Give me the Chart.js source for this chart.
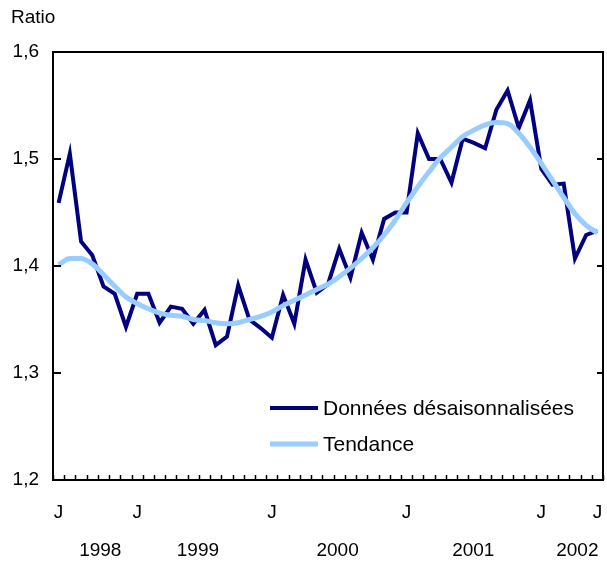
<!DOCTYPE html>
<html>
<head>
<meta charset="utf-8">
<script src="https://cdn.jsdelivr.net/npm/chart.js@4/dist/chart.umd.min.js"></script>
<style>
html,body{margin:0;padding:0;background:#fff;}
#wrap{position:relative;width:607px;height:564px;}
</style>
</head>
<body>
<div id="wrap"><canvas id="c" width="607" height="564"></canvas></div>
<script>
const months = [
  '1998-06','1998-07','1998-08','1998-09','1998-10','1998-11','1998-12',
  '1999-01','1999-02','1999-03','1999-04','1999-05','1999-06','1999-07','1999-08','1999-09','1999-10','1999-11','1999-12',
  '2000-01','2000-02','2000-03','2000-04','2000-05','2000-06','2000-07','2000-08','2000-09','2000-10','2000-11','2000-12',
  '2001-01','2001-02','2001-03','2001-04','2001-05','2001-06','2001-07','2001-08','2001-09','2001-10','2001-11','2001-12',
  '2002-01','2002-02','2002-03','2002-04','2002-05','2002-06'
];
const seasonallyAdjusted = [
  1.459,1.505,1.423,1.410,1.381,1.374,1.343,
  1.374,1.374,1.347,1.362,1.360,1.346,1.359,1.326,1.334,1.382,1.350,1.342,
  1.333,1.373,1.346,1.406,1.375,1.383,1.416,1.389,1.431,1.406,1.444,1.450,
  1.450,1.524,1.500,1.500,1.478,1.519,1.515,1.510,1.546,1.564,1.529,1.555,
  1.491,1.476,1.477,1.407,1.429,1.433
];
const trend = [
  1.401,1.407,1.407,1.402,1.392,1.381,1.371,
  1.365,1.360,1.356,1.354,1.353,1.350,1.349,1.347,1.346,1.347,1.350,1.353,
  1.357,1.363,1.368,1.373,1.378,1.383,1.390,1.398,1.407,1.417,1.429,1.443,
  1.459,1.474,1.488,1.501,1.511,1.521,1.527,1.532,1.534,1.533,1.524,1.511,
  1.496,1.480,1.464,1.449,1.438,1.431
];
const monthTickLabels = {'1998-06':'J','1999-01':'J','2000-01':'J','2001-01':'J','2002-01':'J','2002-06':'J'};
const yearLabels = ['1998','1999','2000','2001','2002'];
const yearSpans = [['1998-06','1998-12'],['1999-01','1999-12'],['2000-01','2000-12'],['2001-01','2001-12'],['2002-01','2002-06']];
const yTicks = [1.2,1.3,1.4,1.5,1.6];
const seriesNames = ['Données désaisonnalisées','Tendance'];
const yTitle = 'Ratio';

const DARK = '#000080';
const LIGHT = '#99ccff';
const FONT = '"Liberation Sans", Arial, sans-serif';
const AXIS_SIZE = 19;
const LEGEND_SIZE = 21;

const framePlugin = {
  id: 'frame',
  afterDraw(chart) {
    const ctx = chart.ctx;
    const a = chart.chartArea;
    const x = chart.scales.x, y = chart.scales.y;
    const step = x.getPixelForValue(1) - x.getPixelForValue(0);
    ctx.save();
    ctx.strokeStyle = '#000';
    ctx.lineWidth = 2;
    ctx.beginPath();
    ctx.rect(a.left, a.top, a.right - a.left, a.bottom - a.top);
    ctx.stroke();
    yTicks.forEach(v => {
      const py = y.getPixelForValue(v);
      ctx.beginPath();
      ctx.moveTo(a.left, py); ctx.lineTo(a.left + 8, py);
      ctx.moveTo(a.right, py); ctx.lineTo(a.right - 6, py);
      ctx.stroke();
    });
    ctx.lineWidth = 1.5;
    for (let i = 0; i <= months.length; i++) {
      const px = x.getPixelForValue(Math.min(i, months.length - 1)) + (i < months.length ? -step / 2 : step / 2);
      ctx.beginPath();
      ctx.moveTo(Math.round(px) + 0.5, a.bottom);
      ctx.lineTo(Math.round(px) + 0.5, a.bottom - 5);
      ctx.stroke();
    }
    ctx.fillStyle = '#000';
    ctx.font = AXIS_SIZE + 'px ' + FONT;
    ctx.textAlign = 'center';
    ctx.textBaseline = 'middle';
    const nudge = [2, -1, 4, 5, 8];
    yearLabels.forEach((lab, k) => {
      const i0 = months.indexOf(yearSpans[k][0]);
      const i1 = months.indexOf(yearSpans[k][1]);
      const cx = (x.getPixelForValue(i0) + x.getPixelForValue(i1)) / 2;
      ctx.fillText(lab, cx + nudge[k] + (k === 0 ? 6 : 0), 551);
    });
    ctx.textAlign = 'left';
    ctx.fillText(yTitle, 11, 18);
    ctx.font = LEGEND_SIZE + 'px ' + FONT;
    const items = [[seriesNames[0], DARK, 4, 408], [seriesNames[1], LIGHT, 5, 444]];
    items.forEach(([t, col, w, py]) => {
      ctx.strokeStyle = col;
      ctx.lineWidth = w;
      ctx.beginPath();
      ctx.moveTo(270, py); ctx.lineTo(318, py);
      ctx.stroke();
      ctx.fillStyle = '#000';
      ctx.fillText(t, 323, py + 1);
    });
    ctx.restore();
  }
};

new Chart(document.getElementById('c'), {
  type: 'line',
  data: {
    labels: months,
    datasets: [
      { label: seriesNames[0], data: seasonallyAdjusted, borderColor: DARK, borderWidth: 4, pointRadius: 0, tension: 0, borderJoinStyle: 'miter', order: 1 },
      { label: seriesNames[1], data: trend, borderColor: LIGHT, borderWidth: 5, pointRadius: 0, cubicInterpolationMode: 'monotone', order: 0 }
    ]
  },
  options: {
    responsive: false,
    animation: false,
    events: [],
    layout: { padding: { left: 0, right: 4, top: 52, bottom: 0 } },
    plugins: { legend: { display: false }, tooltip: { enabled: false } },
    scales: {
      x: {
        offset: true,
        grid: { display: false, drawTicks: false },
        border: { display: false },
        afterFit(s) { s.height = 84; s.paddingLeft = 0; s.paddingRight = 0; },
        ticks: {
          autoSkip: false, maxRotation: 0, minRotation: 0, padding: 21,
          color: '#000', font: { family: FONT, size: AXIS_SIZE },
          callback(v, i) { return monthTickLabels[months[i]] || ''; }
        }
      },
      y: {
        min: 1.2, max: 1.6,
        grid: { display: false, drawTicks: false },
        border: { display: false },
        afterFit(s) { s.width = 53; s.paddingTop = 0; s.paddingBottom = 0; },
        afterBuildTicks(s) { s.ticks = yTicks.map(v => ({ value: v })); },
        ticks: {
          padding: 14, color: '#000', font: { family: FONT, size: AXIS_SIZE },
          callback(v) { return v.toFixed(1).replace('.', ','); }
        }
      }
    }
  },
  plugins: [framePlugin]
});
</script>
</body>
</html>
